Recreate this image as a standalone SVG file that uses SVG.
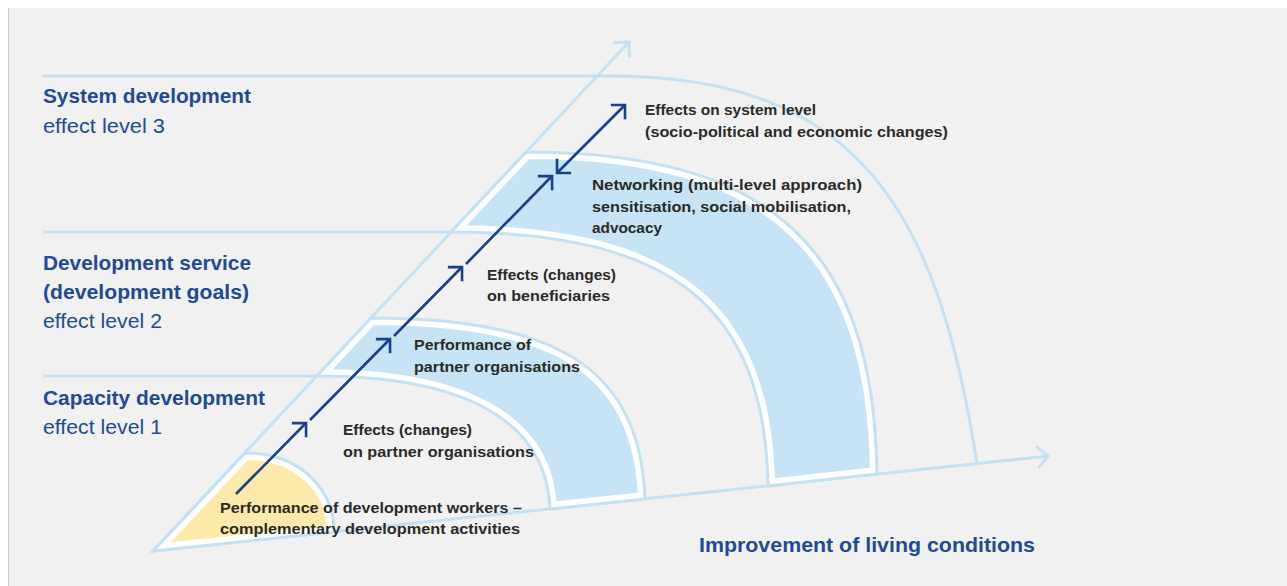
<svg xmlns="http://www.w3.org/2000/svg" width="1287" height="586" viewBox="0 0 1287 586">
<style>
.lb{fill:none;stroke:#c3e1f3;stroke-width:3}
.nv{fill:none;stroke:#1b3f8e;stroke-width:2.6}
.title{font-family:"Liberation Sans",Arial,sans-serif;font-weight:bold;font-size:21px;fill:#1f4a96}
.lvl{font-family:"Liberation Sans",Arial,sans-serif;font-size:21px;fill:#1f4a96}
.lab{font-family:"Liberation Sans",Arial,sans-serif;font-weight:bold;font-size:15.5px;fill:#2b2a28}
.wb{stroke:#ffffff;stroke-width:14}
.ol{fill:none;stroke:#c3e1f3;stroke-width:3}
</style>
<defs>
<marker id="mn" markerUnits="userSpaceOnUse" markerWidth="30" markerHeight="30" refX="0" refY="0" viewBox="-15 -15 30 30" orient="auto-start-reverse" overflow="visible">
<path d="M-10,-10 L0,0 L-10,10" fill="none" stroke="#1b3f8e" stroke-width="2.6"/>
</marker>
<marker id="ml" markerUnits="userSpaceOnUse" markerWidth="30" markerHeight="30" refX="0" refY="0" viewBox="-15 -15 30 30" orient="auto" overflow="visible">
<path d="M-11,-11 L0,0 L-11,11" fill="none" stroke="#c3e1f3" stroke-width="3"/>
</marker>
<path id="pY" d="M153,551 L245,453 C298,453 334,487 334,532 Z"/>
<path id="pB1" d="M371,318 C563,318 640,372 645,499 L550,509 C547,423 468,376 317,376 Z"/>
<path id="pB2" d="M526,152 C772,152 874,249 877,474 L768,486 C765,308 673,232 451,232 Z"/>
<clipPath id="cY"><use href="#pY"/></clipPath>
<clipPath id="cB1"><use href="#pB1"/></clipPath>
<clipPath id="cB2"><use href="#pB2"/></clipPath>
</defs>

<rect x="0" y="0" width="1287" height="586" fill="#ffffff"/>
<rect x="8" y="8" width="1279" height="578" fill="#f1f1f1"/>
<line x1="8.5" y1="8" x2="8.5" y2="586" stroke="#c9c9c9" stroke-width="1"/>

<g id="connectors">
<path class="lb" d="M43,76 L610,76 C860,76 938,212 977,463.6"/>
<line class="lb" x1="43" y1="232" x2="451" y2="232"/>
<line class="lb" x1="43" y1="376" x2="317" y2="376"/>
<line class="lb" x1="153" y1="551" x2="629" y2="42" marker-end="url(#ml)"/>
<line class="lb" x1="153" y1="551" x2="1048" y2="456" marker-end="url(#ml)"/>
</g>

<g id="band-yellow">
<use href="#pY" fill="#fde9a9" class="wb" clip-path="url(#cY)"/>
<use href="#pY" class="ol"/>
</g>
<g id="band-1">
<use href="#pB1" fill="#c6e4f5" class="wb" clip-path="url(#cB1)"/>
<use href="#pB1" class="ol"/>
</g>
<g id="band-2">
<use href="#pB2" fill="#c6e4f5" class="wb" clip-path="url(#cB2)"/>
<use href="#pB2" class="ol"/>
</g>

<g id="arrows">
<line class="nv" x1="236" y1="494" x2="306" y2="423" marker-end="url(#mn)"/>
<line class="nv" x1="310" y1="420" x2="390" y2="339" marker-end="url(#mn)"/>
<line class="nv" x1="394" y1="336" x2="462" y2="267" marker-end="url(#mn)"/>
<line class="nv" x1="466" y1="264" x2="552" y2="176" marker-end="url(#mn)"/>
<line class="nv" x1="557" y1="173" x2="625" y2="105" marker-start="url(#mn)" marker-end="url(#mn)"/>
</g>

<g id="level-3">
<text class="title" x="43" y="103" textLength="208" lengthAdjust="spacingAndGlyphs">System development</text>
<text class="lvl" x="43" y="133" textLength="122" lengthAdjust="spacingAndGlyphs">effect level 3</text>
</g>
<g id="level-2">
<text class="title" x="43" y="270" textLength="208" lengthAdjust="spacingAndGlyphs">Development service</text>
<text class="title" x="43" y="299" textLength="206" lengthAdjust="spacingAndGlyphs">(development goals)</text>
<text class="lvl" x="43" y="328" textLength="119" lengthAdjust="spacingAndGlyphs">effect level 2</text>
</g>
<g id="level-1">
<text class="title" x="43" y="405" textLength="222" lengthAdjust="spacingAndGlyphs">Capacity development</text>
<text class="lvl" x="43" y="434" textLength="119" lengthAdjust="spacingAndGlyphs">effect level 1</text>
</g>

<g id="node-system-effects">
<text class="lab" x="645" y="115" textLength="171" lengthAdjust="spacingAndGlyphs">Effects on system level</text>
<text class="lab" x="645" y="137" textLength="303" lengthAdjust="spacingAndGlyphs">(socio-political and economic changes)</text>
</g>
<g id="node-networking">
<text class="lab" x="592" y="190" textLength="270" lengthAdjust="spacingAndGlyphs">Networking (multi-level approach)</text>
<text class="lab" x="592" y="212" textLength="259" lengthAdjust="spacingAndGlyphs">sensitisation, social mobilisation,</text>
<text class="lab" x="592" y="233" textLength="70" lengthAdjust="spacingAndGlyphs">advocacy</text>
</g>
<g id="node-beneficiaries">
<text class="lab" x="487" y="280" textLength="129" lengthAdjust="spacingAndGlyphs">Effects (changes)</text>
<text class="lab" x="487" y="301" textLength="123" lengthAdjust="spacingAndGlyphs">on beneficiaries</text>
</g>
<g id="node-partner-performance">
<text class="lab" x="414" y="350" textLength="117" lengthAdjust="spacingAndGlyphs">Performance of</text>
<text class="lab" x="414" y="372" textLength="166" lengthAdjust="spacingAndGlyphs">partner organisations</text>
</g>
<g id="node-partner-effects">
<text class="lab" x="343" y="435" textLength="129" lengthAdjust="spacingAndGlyphs">Effects (changes)</text>
<text class="lab" x="343" y="457" textLength="191" lengthAdjust="spacingAndGlyphs">on partner organisations</text>
</g>
<g id="node-workers">
<text class="lab" x="220" y="512.5" textLength="302" lengthAdjust="spacingAndGlyphs">Performance of development workers –</text>
<text class="lab" x="220" y="533.5" textLength="300" lengthAdjust="spacingAndGlyphs">complementary development activities</text>
</g>
<g id="axis-label">
<text class="title" x="699" y="552" textLength="336" lengthAdjust="spacingAndGlyphs">Improvement of living conditions</text>
</g>
</svg>
